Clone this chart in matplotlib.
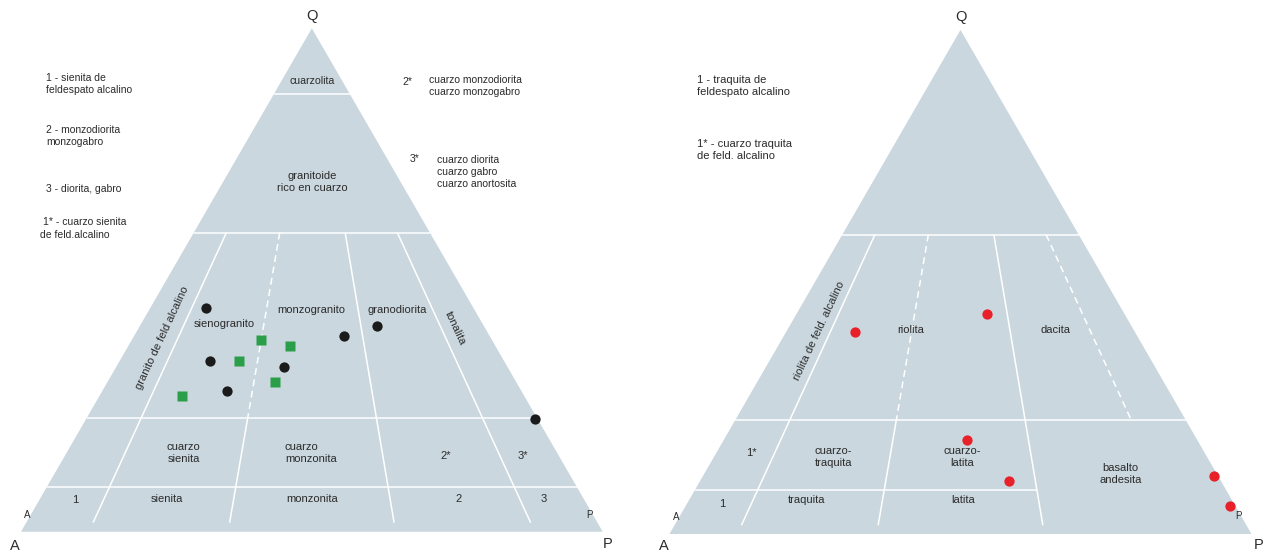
import numpy as np
import matplotlib
matplotlib.use("Agg")
import matplotlib.pyplot as plt
from matplotlib.patches import Polygon

plt.rcParams['font.family'] = ['Liberation Sans', 'DejaVu Sans']

H = np.sqrt(3) / 2

# Modal compositions (percent) -- plutonic rocks
plut_circ_Q = [44.5, 34.0, 28.0, 32.7, 38.9, 40.8, 22.4]
plut_circ_A = [46.0, 50.5, 50.6, 38.5, 25.0, 18.4, 0.5]
plut_circ_P = [9.5, 15.5, 21.4, 28.8, 36.1, 40.8, 77.1]
plut_sq_Q = [38.1, 36.9, 33.9, 29.7, 27.0]
plut_sq_A = [39.7, 35.3, 45.6, 41.5, 58.8]
plut_sq_P = [22.2, 27.8, 20.5, 28.8, 14.2]
# Modal compositions (percent) -- volcanic rocks
volc_Q = [40.2, 43.6, 18.7, 10.5, 11.6, 5.6]
volc_A = [48.1, 23.7, 39.5, 36.5, 0.7, 1.0]
volc_P = [11.7, 32.7, 41.8, 53.0, 87.7, 93.4]

# Field boundaries: Q levels of the horizontal dividers and
# P/(A+P) ratios of the oblique dividers at their upper / lower ends
Q_TOP_FIELD = 0.869
Q_UPPER = 0.594
Q_MID = 0.226
Q_LOW = 0.088
Q_END = 0.018
ratio_top = [0.138, 0.364, 0.641, 0.862]
ratio_bot = [0.117, 0.356, 0.644, 0.883]

FILL = '#cad7de'
TXT = '#2b2b2b'
LW = 1.1
DASH = (0, (4.5, 3.0))


def tern(q, a, p):
    q, a, p = (np.asarray(v, float) for v in (q, a, p))
    s = q + a + p
    return (p + q / 2) / s, q * H / s


def pt(q, r):
    p = r * (1 - q)
    return np.array([p + q / 2, q * H])


def along(i, q):
    top = pt(Q_UPPER, ratio_top[i])
    bot = pt(Q_END, ratio_bot[i])
    t = (q - Q_END) / (Q_UPPER - Q_END)
    return bot + t * (top - bot)


def seg(ax, a, b, dashed=False):
    ax.plot([a[0], b[0]], [a[1], b[1]], color='white', lw=LW,
            ls=DASH if dashed else '-', solid_capstyle='butt', zorder=2)


def hline(ax, q, r0=0.0, r1=1.0):
    seg(ax, pt(q, r0), pt(q, r1))


def base(ax):
    ax.set_xlim(0, 1)
    ax.set_ylim(0, H)
    ax.axis('off')
    ax.add_patch(Polygon([[0, 0], [1, 0], [0.5, H]], closed=True,
                         facecolor=FILL, edgecolor='none', zorder=1))
    ax.text(0.5, 0.888, 'Q', ha='center', va='center', fontsize=10.5, color=TXT)


def label(ax, x, y, s, size=8, **kw):
    kw.setdefault('ha', 'center')
    kw.setdefault('va', 'center')
    ax.text(x, y, s, fontsize=size, color=TXT, zorder=4, linespacing=1.25, **kw)


fig = plt.figure(figsize=(12.64, 5.56), dpi=100)

# ---------------- plutonic diagram ----------------
ax1 = fig.add_axes([21 / 1264, (556 - 531.7) / 556, 581.7 / 1264, 503.4 / 556])
base(ax1)
for q in (Q_TOP_FIELD, Q_UPPER, Q_MID, Q_LOW):
    hline(ax1, q)
seg(ax1, along(0, Q_UPPER), along(0, Q_END))
seg(ax1, along(1, Q_UPPER), along(1, Q_MID), dashed=True)
seg(ax1, along(1, Q_MID), along(1, Q_END))
seg(ax1, along(2, Q_UPPER), along(2, Q_END))
seg(ax1, along(3, Q_UPPER), along(3, Q_END))

x, y = tern(plut_circ_Q, plut_circ_A, plut_circ_P)
ax1.plot(x, y, 'o', ms=7.4, color='#1b1b1b', mec='none', zorder=5)
x, y = tern(plut_sq_Q, plut_sq_A, plut_sq_P)
ax1.plot(x, y, 's', ms=7.0, color='#2a9e48', mec='none', zorder=5)

label(ax1, 0.5, 0.775, 'cuarzolita', size=7.6)
label(ax1, 0.5, 0.601, 'granitoide\nrico en cuarzo')
label(ax1, 0.242, 0.333, 'granito de feld alcalino', rotation=65, rotation_mode='anchor')
label(ax1, 0.350, 0.3565, 'sienogranito')
label(ax1, 0.4997, 0.382, 'monzogranito')
label(ax1, 0.6464, 0.382, 'granodiorita')
label(ax1, 0.746, 0.3497, 'tonalita', rotation=-65, rotation_mode='anchor')
label(ax1, 0.2794, 0.1348, 'cuarzo\nsienita')
label(ax1, 0.4538, 0.1348, 'cuarzo\nmonzonita', ha='left', multialignment='left')
label(ax1, 0.7306, 0.1303, '2*')
label(ax1, 0.862, 0.1303, '3*')
label(ax1, 0.0928, 0.0545, '1')
label(ax1, 0.2515, 0.0557, 'sienita')
label(ax1, 0.5003, 0.0557, 'monzonita')
label(ax1, 0.7518, 0.0562, '2')
label(ax1, 0.899, 0.0562, '3')
label(ax1, 0.0103, 0.0287, 'A', size=7)
label(ax1, 0.978, 0.0287, 'P', size=7)
label(ax1, -0.0103, -0.0241, 'A', size=10.5)
label(ax1, 1.0086, -0.0211, 'P', size=10.5)

LEG = 7.5
label(ax1, 0.043, 0.771, '1 - sienita de\nfeldespato alcalino', size=LEG, ha='left', multialignment='left')
label(ax1, 0.043, 0.681, '2 - monzodiorita\nmonzogabro', size=LEG, ha='left', multialignment='left')
label(ax1, 0.043, 0.590, '3 - diorita, gabro', size=LEG, ha='left')
label(ax1, 0.0378, 0.533, '1* - cuarzo sienita', size=LEG, ha='left')
label(ax1, 0.0327, 0.511, 'de feld.alcalino', size=LEG, ha='left')
label(ax1, 0.665, 0.774, '2*', size=LEG)
label(ax1, 0.701, 0.7665, 'cuarzo monzodiorita\ncuarzo monzogabro', size=LEG, ha='left', multialignment='left')
label(ax1, 0.676, 0.642, '3*', size=LEG)
label(ax1, 0.715, 0.619, 'cuarzo diorita\ncuarzo gabro\ncuarzo anortosita', size=LEG, ha='left', multialignment='left')

# ---------------- volcanic diagram ----------------
ax2 = fig.add_axes([669.3 / 1264, (556 - 534.3) / 556, 582.4 / 1264, 504.4 / 556])
base(ax2)
hline(ax2, Q_UPPER)
hline(ax2, Q_MID)
seg(ax2, pt(Q_LOW, 0.0), along(2, Q_LOW))
seg(ax2, along(0, Q_UPPER), along(0, Q_END))
seg(ax2, along(1, Q_UPPER), along(1, Q_MID), dashed=True)
seg(ax2, along(1, Q_MID), along(1, Q_END))
seg(ax2, along(2, Q_UPPER), along(2, Q_END))
seg(ax2, along(3, Q_UPPER), along(3, Q_MID), dashed=True)

x, y = tern(volc_Q, volc_A, volc_P)
ax2.plot(x, y, 'o', ms=7.4, color='#e8202a', mec='none', zorder=5)

label(ax2, 0.257, 0.350, 'riolita de feld. alcalino', rotation=65, rotation_mode='anchor')
label(ax2, 0.4153, 0.3508, 'riolita')
label(ax2, 0.6623, 0.3508, 'dacita')
label(ax2, 0.1408, 0.1401, '1*')
label(ax2, 0.282, 0.1327, 'cuarzo-\ntraquita')
label(ax2, 0.5034, 0.1319, 'cuarzo-\nlatita')
label(ax2, 0.7744, 0.1039, 'basalto\nandesita')
label(ax2, 0.091, 0.0515, '1')
label(ax2, 0.235, 0.0589, 'traquita')
label(ax2, 0.5048, 0.0589, 'latita')
label(ax2, 0.0127, 0.0302, 'A', size=7)
label(ax2, 0.978, 0.0314, 'P', size=7)
label(ax2, -0.0094, -0.0196, 'A', size=10.5)
label(ax2, 1.012, -0.0184, 'P', size=10.5)

label(ax2, 0.0476, 0.770, '1 - traquita de\nfeldespato alcalino', ha='left', multialignment='left')
label(ax2, 0.0476, 0.660, '1* - cuarzo traquita\nde feld. alcalino', ha='left', multialignment='left')

fig.savefig('out.png', dpi=100, facecolor='white')
